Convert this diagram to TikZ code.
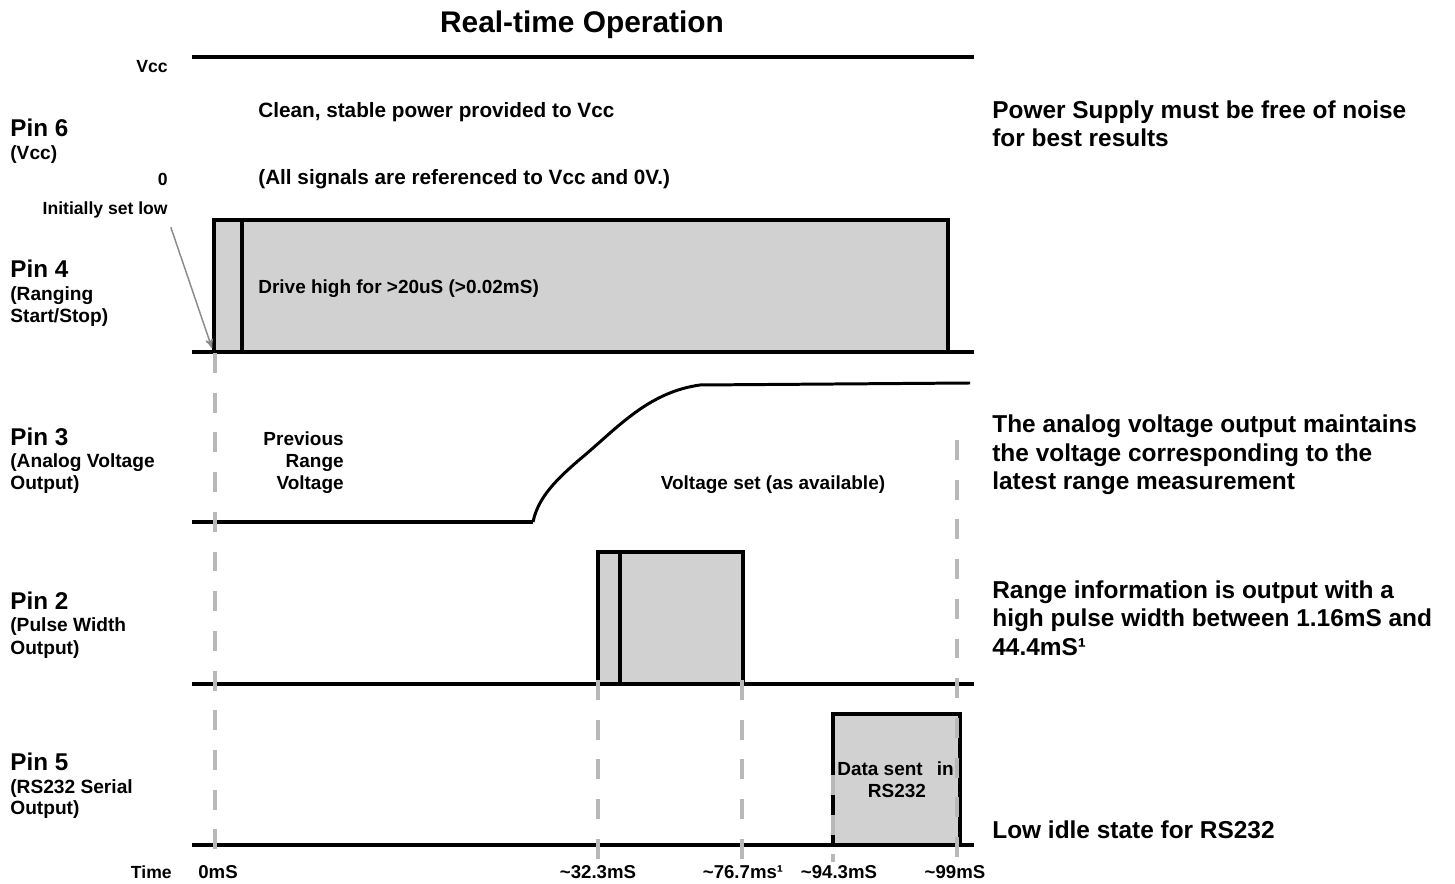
\documentclass[tikz,border=0pt]{standalone}
\usepackage{fontspec}
\setmainfont{Liberation Sans}
\usetikzlibrary{arrows}

\definecolor{pulsegray}{gray}{0.82}
\definecolor{guidegray}{gray}{0.72}
\definecolor{pointergray}{gray}{0.55}

\tikzset{
  sig/.style={line width=2.8pt},
  ramp/.style={line width=1.7pt,line join=round},
  pulse/.style={fill=pulsegray,line width=2.8pt},
  guide/.style={draw=guidegray,line width=2.3pt,dash pattern=on 11.3pt off 11.3pt},
  pointer/.style={->,draw=pointergray,line width=0.85pt,shorten <=5pt},
  ttl/.style={inner sep=0pt,anchor=base,font=\fontsize{17}{20}\selectfont\bfseries},
  pin/.style={inner sep=0pt,anchor=base west,font=\fontsize{13.8}{16}\selectfont\bfseries},
  sub/.style={inner sep=0pt,anchor=base west,font=\fontsize{10.9}{13}\selectfont\bfseries},
  small/.style={inner sep=0pt,anchor=base east,font=\fontsize{10}{12}\selectfont\bfseries},
  note/.style={inner sep=0pt,anchor=base west,font=\fontsize{11.8}{14}\selectfont\bfseries},
  inlbl/.style={inner sep=0pt,font=\fontsize{10.8}{13}\selectfont\bfseries},
  side/.style={inner sep=0pt,anchor=base west,font=\fontsize{13.9}{16}\selectfont\bfseries},
  tick/.style={inner sep=0pt,anchor=base,font=\fontsize{10.6}{13}\selectfont\bfseries}
}

\begin{document}
\begin{tikzpicture}[x=0.02cm,y=-0.02cm,>=stealth']
\useasboundingbox (0,0) rectangle (1455,884);

\node[ttl] (title) at (582,33) {Real-time Operation};

% Pin 6 (Vcc)
\draw[sig] (192,57) -- (974,57);
\node[small] (vcc) at (168,73) {Vcc};
\node[small] (zero) at (168,186) {0};
\node[pin] (p6) at (10,137) {Pin 6};
\node[sub] (p6a) at (10,160) {(Vcc)};
\node[note] (clean) at (258,118) {Clean, stable power provided to Vcc};
\node[note] (allref) at (258,185) {(All signals are referenced to Vcc and 0V.)};
\node[side] (r6a) at (992,119) {Power Supply must be free of noise};
\node[side] (r6b) at (992,147) {for best results};

% Pin 4 (ranging start/stop)
\draw[pulse] (214,220) rectangle (948,352);
\draw[sig] (242,220) -- (242,352);
\draw[sig] (192,352) -- (974,352);
\node[small] (init) at (168,215) {Initially set low};
\coordinate (p4start) at (212,348);
\draw[pointer] (init.south east) -- (p4start);
\node[pin] (p4) at (10,278) {Pin 4};
\node[sub] (p4a) at (10,301) {(Ranging};
\node[sub] (p4b) at (10,323) {Start/Stop)};
\node[inlbl,anchor=base west] (drive) at (258,294) {Drive high for >20uS (>0.02mS)};

% Pin 3 (analog voltage)
\draw[sig] (192,522) -- (533,522);
\draw[ramp] (533,522) .. controls (538,498) and (555,480) .. (585,455)
  .. controls (620,425) and (650,392) .. (700,385) -- (970,383);
\node[pin] (p3) at (10,446) {Pin 3};
\node[sub] (p3a) at (10,468) {(Analog Voltage};
\node[sub] (p3b) at (10,490) {Output)};
\node[inlbl,anchor=base east] (prev1) at (344,446) {Previous};
\node[inlbl,anchor=base east] (prev2) at (344,468) {Range};
\node[inlbl,anchor=base east] (prev3) at (344,490) {Voltage};
\node[inlbl,anchor=base] (vset) at (773,490) {Voltage set (as available)};
\node[side] (r3a) at (992,433) {The analog voltage output maintains};
\node[side] (r3b) at (992,462) {the voltage corresponding to the};
\node[side] (r3c) at (992,490) {latest range measurement};

% Pin 2 (pulse width)
\draw[pulse] (598,552) rectangle (743,684);
\draw[sig] (620,552) -- (620,684);
\draw[sig] (192,684) -- (974,684);
\node[pin] (p2) at (10,610) {Pin 2};
\node[sub] (p2a) at (10,632) {(Pulse Width};
\node[sub] (p2b) at (10,655) {Output)};
\node[side] (r2a) at (992,599) {Range information is output with a};
\node[side] (r2b) at (992,627) {high pulse width between 1.16mS and};
\node[side] (r2c) at (992,656) {44.4mS¹};

% Pin 5 (RS232)
\draw[pulse] (833,714) rectangle (960,845);
\draw[sig] (192,845) -- (974,845);
\node[pin] (p5) at (10,771) {Pin 5};
\node[sub] (p5a) at (10,794) {(RS232 Serial};
\node[sub] (p5b) at (10,815) {Output)};
\node[inlbl,anchor=base west] (data) at (837,776) {Data sent\hspace{8pt}in};
\node[inlbl,anchor=base] (rs) at (897,798) {RS232};
\node[side] (r5) at (992,839) {Low idle state for RS232};

% time guides
\foreach \gx/\ya/\yb in {215/353/853, 598/680/862, 742/680/862, 833/775/862, 957/440/862}
  \draw[guide] (\gx,\ya) -- (\gx,\yb);

% time axis
\node[small] (time) at (172,879) {Time};
\node[tick,anchor=base west] (t0) at (198,879) {0mS};
\node[tick] (t1) at (598,879) {\textasciitilde 32.3mS};
\node[tick] (t2) at (743,879) {\textasciitilde 76.7ms¹};
\node[tick] (t3) at (839,879) {\textasciitilde 94.3mS};
\node[tick] (t4) at (955,879) {\textasciitilde 99mS};

\end{tikzpicture}
\end{document}
